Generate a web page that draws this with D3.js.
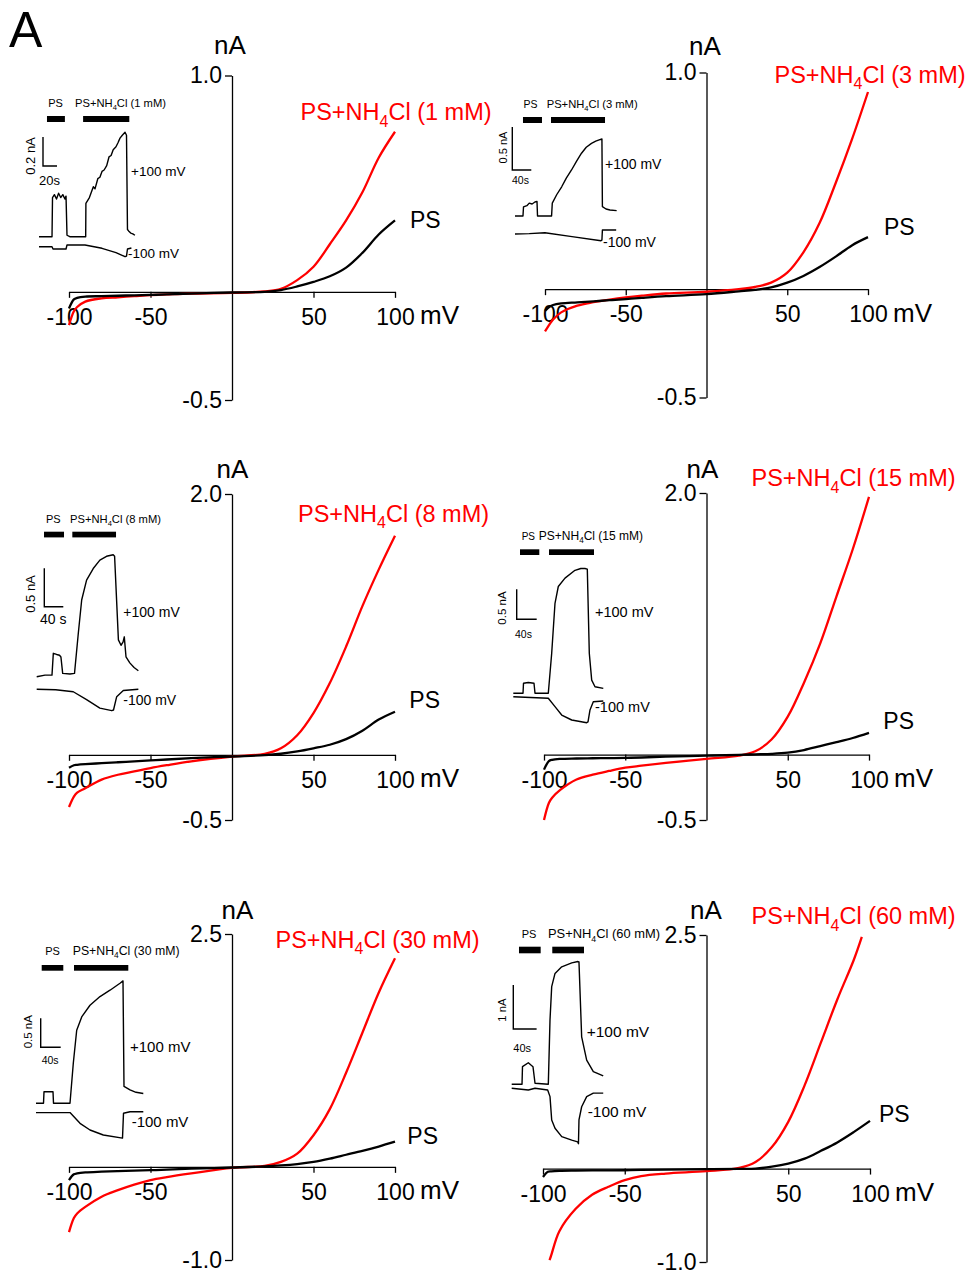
<!DOCTYPE html>
<html><head><meta charset="utf-8">
<script src="https://cdn.jsdelivr.net/npm/d3@7"></script>
<style>body{margin:0;background:#fff}svg{display:block}</style>
</head><body><svg id="c" width="973" height="1274"></svg>
<script>
// ---------------- DATA ----------------
const concentrations = ["1 mM", "3 mM", "8 mM", "15 mM", "30 mM", "60 mM"];
const yTopTicks = [1.0, 1.0, 2.0, 2.0, 2.5, 2.5];
const yBottomTicks = [-0.5, -0.5, -0.5, -0.5, -1.0, -1.0];
const xTickValues = [-100, -50, 50, 100];

// Voltage grid (mV) for I-V traces
const voltages = [-100,-97,-95,-90,-80,-70,-60,-50,-40,-25,0,20,30,40,50,60,70,80,90,100];
const voltages60Red = [-96,-95,-90,-80,-70,-60,-50,-40,-25,0,20,30,40,50,60,70,80,90,95];

// Currents (nA): PS (black) and PS+NH4Cl (red)
const ps1  = [-0.077,-0.035,-0.028,-0.022,-0.020,-0.018,-0.016,-0.014,-0.012,-0.008,-0.003,0.000,0.008,0.025,0.046,0.072,0.112,0.180,0.265,0.330];
const nh1  = [-0.154,-0.090,-0.070,-0.045,-0.030,-0.025,-0.020,-0.015,-0.012,-0.008,-0.005,0.002,0.014,0.054,0.116,0.220,0.330,0.460,0.620,0.740];
const ps3  = [-0.100,-0.080,-0.073,-0.066,-0.061,-0.056,-0.051,-0.046,-0.040,-0.032,-0.023,-0.010,-0.003,0.008,0.030,0.061,0.102,0.150,0.202,0.240];
const nh3  = [-0.195,-0.160,-0.140,-0.107,-0.076,-0.060,-0.048,-0.038,-0.030,-0.020,-0.012,0.000,0.010,0.030,0.076,0.170,0.305,0.490,0.690,0.910];
const ps8  = [-0.100,-0.080,-0.077,-0.072,-0.064,-0.057,-0.050,-0.043,-0.036,-0.026,-0.013,-0.003,0.008,0.026,0.050,0.077,0.120,0.185,0.270,0.330];
const nh8  = [-0.400,-0.320,-0.290,-0.256,-0.190,-0.153,-0.128,-0.102,-0.080,-0.050,-0.013,0.008,0.050,0.150,0.320,0.550,0.830,1.140,1.420,1.680];
const ps15 = [-0.115,-0.050,-0.040,-0.033,-0.030,-0.028,-0.027,-0.025,-0.022,-0.016,-0.008,-0.002,0.002,0.006,0.015,0.035,0.065,0.095,0.127,0.166];
const nh15 = [-0.500,-0.370,-0.330,-0.270,-0.190,-0.153,-0.125,-0.100,-0.085,-0.064,-0.033,-0.008,0.025,0.115,0.290,0.550,0.850,1.210,1.570,1.970];
const ps30 = [-0.142,-0.080,-0.070,-0.060,-0.052,-0.046,-0.040,-0.036,-0.030,-0.020,-0.007,0.005,0.015,0.030,0.053,0.088,0.130,0.172,0.218,0.270];
const nh30 = [-0.700,-0.550,-0.500,-0.430,-0.320,-0.250,-0.190,-0.142,-0.110,-0.070,-0.010,0.010,0.053,0.142,0.340,0.620,1.010,1.440,1.870,2.240];
const ps60 = [-0.090,-0.035,-0.030,-0.025,-0.022,-0.020,-0.019,-0.018,-0.015,-0.011,-0.007,-0.003,0.000,0.020,0.053,0.106,0.190,0.280,0.390,0.510];
const nh60 = [-0.980,-0.930,-0.670,-0.430,-0.280,-0.195,-0.124,-0.080,-0.053,-0.028,0.007,0.070,0.230,0.500,0.890,1.350,1.810,2.230,2.480];

const psSeries = [ps1, ps3, ps8, ps15, ps30, ps60];
const nhSeries = [nh1, nh3, nh8, nh15, nh30, nh60];
const nhVoltages = [voltages, voltages, voltages, voltages, voltages, voltages60Red];

// Inset time courses: [time (s), current (nA)] at +100 mV and -100 mV
const ins1Pos = [[0,0],[18.6,0],[19.3,0.27],[22,0.29],[25,0.26],[28,0.30],[31,0.27],[34,0.29],[37,0.26],[38.6,0.28],[40,0.01],[44,0],[66.7,0],[67,0.23],[72,0.27],[77.6,0.345],[80,0.33],[84,0.40],[87,0.41],[90,0.45],[93,0.46],[96.7,0.49],[100,0.55],[103,0.56],[106,0.60],[110,0.62],[113,0.65],[115.7,0.68],[119,0.70],[122.9,0.72],[125,0.70],[126.4,0.05],[128,0.04],[131,0.025],[134,0.02],[137,0.01]];
const ins1Neg = [[0,-0.069],[18.6,-0.069],[20,-0.085],[38.6,-0.085],[40,-0.057],[65.7,-0.057],[90,-0.08],[110,-0.11],[122.9,-0.138],[125,-0.134],[126.4,-0.085],[132,-0.078]];
const ins3Pos = [[0,0],[16.8,0],[17.9,0.105],[25,0.12],[30,0.15],[36,0.14],[42,0.163],[46.3,0.17],[47.4,0],[77,0],[78.5,0.15],[88,0.25],[98.3,0.34],[108,0.44],[119,0.535],[130,0.64],[140,0.73],[150,0.80],[161,0.845],[170,0.87],[180,0.89],[183,0.895],[184,0.108],[191.6,0.081],[200,0.07],[214,0.062]];
const ins3Neg = [[0,-0.21],[30,-0.205],[63,-0.194],[120,-0.24],[181,-0.287],[183,-0.28],[184,-0.163],[213,-0.163]];
const ins8Pos = [[0,0],[17.5,0.02],[32.2,0.02],[35,0.305],[42,0.29],[48,0.28],[51,0.257],[54.7,0.044],[70,0.035],[79.6,0.044],[87.6,0.566],[94.7,1.0],[105,1.26],[119,1.41],[133,1.52],[147,1.57],[161,1.59],[164,1.57],[172,0.48],[177.5,0.41],[181.7,0.45],[184.4,0.52],[188,0.26],[196,0.18],[205,0.12],[214,0.078]];
const ins8Neg = [[0,-0.164],[40,-0.17],[77,-0.196],[105,-0.30],[133,-0.41],[158,-0.443],[161.7,-0.434],[168.4,-0.26],[182.3,-0.18],[214,-0.164]];
const ins15Pos = [[0,0],[19.4,0],[20.4,0.167],[30,0.18],[41.4,0.167],[43.4,0],[70,0],[76.8,0.667],[83.4,1.5],[90,1.78],[103.4,1.92],[123.4,2.05],[135,2.08],[143.4,2.08],[148,2.07],[152,0.667],[156.8,0.22],[163.4,0.11],[180,0.083]];
const ins15Neg = [[0,-0.057],[70,-0.083],[83.4,-0.223],[96.8,-0.362],[116.8,-0.445],[146.8,-0.49],[149.4,-0.478],[153.4,-0.278],[160,-0.14],[180,-0.128]];
const ins30Pos = [[0,0],[15,0],[16,0.2],[34,0.2],[35,0],[68,0],[74.6,0.69],[81.4,1.26],[91.4,1.49],[108,1.69],[128,1.84],[148,1.95],[168,2.07],[174,2.11],[176,0.29],[188,0.23],[200,0.19],[214.6,0.17]];
const ins30Neg = [[0,-0.16],[68,-0.16],[88,-0.345],[108,-0.46],[134.6,-0.547],[173,-0.6],[175,-0.172],[188,-0.145],[214.6,-0.145]];
const ins60Pos = [[0,0],[17.7,0],[18.5,0.4],[28.5,0.49],[36.5,0.4],[40,0.023],[62.8,0],[65.7,1.46],[68.6,2.22],[74.3,2.52],[85.8,2.67],[103,2.76],[113.7,2.79],[115.4,2.78],[120,1.08],[128.6,0.55],[140,0.29],[157,0.19]];
const ins60Neg = [[0,-0.09],[28.5,-0.13],[40,-0.09],[61.7,-0.13],[65.7,-0.28],[68.6,-0.81],[74.3,-1.0],[85.8,-1.19],[103,-1.27],[113.2,-1.31],[114.5,-1.35],[115.4,-0.81],[120,-0.51],[128.6,-0.28],[140,-0.2],[157,-0.2]];
const insPos = [ins1Pos, ins3Pos, ins8Pos, ins15Pos, ins30Pos, ins60Pos];
const insNeg = [ins1Neg, ins3Neg, ins8Neg, ins15Neg, ins30Neg, ins60Neg];

// Application periods (s)
const psPeriods = [[11.4,37],[16.8,56.8],[15.4,57.5],[13.4,52],[11.4,54.6],[12.5,49.7]];
const nhPeriods = [[63,129],[75.8,189.5],[75,167],[71.4,161.4],[76,184.6],[69.6,124]];
// Scale bars
const scaleNA = [0.2, 0.5, 0.5, 0.5, 0.5, 1];
const scaleS = [20, 40, 40, 40, 40, 40];
const scaleNALabels = ["0.2 nA", "0.5 nA", "0.5 nA", "0.5 nA", "0.5 nA", "1 nA"];
const scaleSLabels = ["20s", "40s", "40 s", "40s", "40s", "40s"];

// ---------------- LAYOUT ----------------
const FONT = '"Liberation Sans", Arial, Helvetica, sans-serif';
const RED = "#ff0000";
const panelLayout = [
  {x:[69,395],  y:[400,75.5],  nA:[230,54],     red:[300.5,120],  ps:[410,228.3]},
  {x:[545,868], y:[397.5,72.5],nA:[705,55],     red:[774.5,82.7], ps:[884,235]},
  {x:[69,395],  y:[820,494],   nA:[232.5,478.3],red:[298,521.7],  ps:[409.3,708.3]},
  {x:[544,869], y:[820,493],   nA:[702.5,478],  red:[751.5,486],  ps:[883.3,729.3]},
  {x:[69,395],  y:[1260,934],  nA:[237.5,919],  red:[275.5,947.7],ps:[407.3,1144.3]},
  {x:[543,870], y:[1262,935],  nA:[706,919],    red:[751.5,924.3],ps:[879,1122.3]}
];
const insetLayout = [
  {x0:39,   base:236.7, pxS:0.7,   pxNA:145,  barY:116,   barH:6,   psL:[55.5,107], psF:11,  nhL:[75,107],    hf:11.2, sb:[43,166],     naL:[35,156],     naF:13,   sL:[39,185],     sF:13,   pos:[131,176],     neg:[128,258],     mf:13.5},
  {x0:515,  base:216,   pxS:0.475, pxNA:86,   barY:117,   barH:6,   psL:[530.5,108],psF:10.5,nhL:[546.7,108], hf:11.2, sb:[512.3,170],  naL:[506.5,147.5],naF:11,   sL:[512,184.3],  sF:10.5, pos:[605,169],     neg:[603,246.7],   mf:14},
  {x0:36.7, base:676.7, pxS:0.475, pxNA:76.7, barY:531.7, barH:5.7, psL:[53.3,523], psF:11,  nhL:[70,523],    hf:11.2, sb:[44.3,606.7], naL:[35,594],     naF:13,   sL:[40,624],     sF:14,   pos:[123.3,616.7], neg:[123.3,705],   mf:14},
  {x0:513.3,base:693.3, pxS:0.5,   pxNA:60,   barY:549.3, barH:5.7, psL:[528.3,540],psF:10,  nhL:[538.8,540], hf:12,   sb:[516.7,619.3], naL:[505.5,608],  naF:11.5, sL:[515,638.3],  sF:10.5, pos:[595,616.7],   neg:[595,712.3],   mf:14.5},
  {x0:36,   base:1103.3,pxS:0.5,   pxNA:58,   barY:965,   barH:5.7, psL:[52.5,955], psF:11,  nhL:[72.7,955],  hf:12.3, sb:[40.7,1047.3], naL:[32,1031.7],  naF:11.5, sL:[41.7,1064],  sF:10.5, pos:[130,1051.7],  neg:[131.7,1126.7],mf:15},
  {x0:511.7,base:1084.3,pxS:0.583, pxNA:44,   barY:946.7, barH:6.6, psL:[529,938],  psF:11,  nhL:[548,938],   hf:12.9, sb:[513.3,1029],  naL:[505.5,1010], naF:11.3, sL:[513.3,1051.7],sF:11,  pos:[586.7,1036.7],neg:[587.7,1116.7],mf:15.5}
];

// ---------------- DRAW ----------------
const svg = d3.select("#c");
svg.append("rect").attr("width",973).attr("height",1274).attr("fill","#fff");
svg.append("text").attr("x",9).attr("y",47).attr("font-family",FONT).attr("font-size",50).text("A");

function nh4Label(sel, conc, size) {
  sel.attr("font-family", FONT).attr("font-size", size);
  sel.append("tspan").text("PS+NH");
  sel.append("tspan").attr("font-size", size*0.68).attr("dy", size*0.28).text("4");
  sel.append("tspan").attr("dy", -size*0.28).text("Cl (" + conc + ")");
}

panelLayout.forEach((L, i) => {
  const g = svg.append("g");
  const x = d3.scaleLinear().domain([-100, 100]).range(L.x);
  const y = d3.scaleLinear().domain([yBottomTicks[i], yTopTicks[i]]).range(L.y);

  const xa = g.append("g").attr("transform", `translate(0,${y(0)})`)
    .call(d3.axisBottom(x).tickValues(xTickValues).tickSize(6).tickSizeOuter(0).tickFormat(d => String(d)));
  const ya = g.append("g").attr("transform", `translate(${x(0)},0)`)
    .call(d3.axisLeft(y).tickValues([yBottomTicks[i], yTopTicks[i]]).tickSize(7).tickSizeOuter(0).tickFormat(d => d.toFixed(1)));
  [xa, ya].forEach(a => {
    a.attr("font-family", FONT).attr("font-size", 23);
    a.selectAll("path,line").attr("stroke", "#000").attr("stroke-width", 1.3);
    a.selectAll("text").attr("fill", "#000");
  });
  xa.selectAll("text").attr("y", 33).attr("dy", 0);
  ya.selectAll("text").attr("x", -10);

  // Traces
  const crv = d3.curveCatmullRom.alpha(0.5);
  const red = d3.line().x((d, k) => x(nhVoltages[i][k])).y(d => y(d)).curve(crv);
  const blk = d3.line().x((d, k) => x(voltages[k])).y(d => y(d)).curve(crv);
  g.append("path").attr("d", red(nhSeries[i])).attr("fill", "none").attr("stroke", RED).attr("stroke-width", 2.3);
  g.append("path").attr("d", blk(psSeries[i])).attr("fill", "none").attr("stroke", "#000").attr("stroke-width", 2.3);

  // Labels
  g.append("text").attr("x", L.nA[0]).attr("y", L.nA[1]).attr("text-anchor", "middle")
    .attr("font-family", FONT).attr("font-size", 26).text("nA");
  g.append("text").attr("x", x(100) + 25).attr("y", y(0) + 32.5)
    .attr("font-family", FONT).attr("font-size", 26).text("mV");
  g.append("text").attr("x", L.ps[0]).attr("y", L.ps[1]).attr("font-family", FONT).attr("font-size", 23).text("PS");
  g.append("text").attr("x", L.red[0]).attr("y", L.red[1]).attr("fill", RED).call(nh4Label, concentrations[i], 23.5);

  // Inset
  const I = insetLayout[i];
  const ix = d3.scaleLinear().domain([0, 1]).range([I.x0, I.x0 + I.pxS]);
  const iy = d3.scaleLinear().domain([0, 1]).range([I.base, I.base - I.pxNA]);
  const il = d3.line().x(d => ix(d[0])).y(d => iy(d[1]));
  const ig = svg.append("g");
  ig.append("path").attr("d", il(insPos[i])).attr("fill", "none").attr("stroke", "#000").attr("stroke-width", 1.4).attr("stroke-linejoin","round");
  ig.append("path").attr("d", il(insNeg[i])).attr("fill", "none").attr("stroke", "#000").attr("stroke-width", 1.4).attr("stroke-linejoin","round");
  // application bars
  [psPeriods[i], nhPeriods[i]].forEach(p => {
    ig.append("rect").attr("x", ix(p[0])).attr("width", ix(p[1]) - ix(p[0]))
      .attr("y", I.barY).attr("height", I.barH).attr("fill", "#000");
  });
  ig.append("text").attr("x", I.psL[0]).attr("y", I.psL[1]).attr("text-anchor", "middle")
    .attr("font-family", FONT).attr("font-size", I.psF).text("PS");
  ig.append("text").attr("x", I.nhL[0]).attr("y", I.nhL[1]).call(nh4Label, concentrations[i], I.hf);
  // scale bar
  const tc = ix.invert(I.sb[0]), ic = iy.invert(I.sb[1]);
  ig.append("path").attr("d", `M${ix(tc)},${iy(ic + scaleNA[i])}V${iy(ic)}H${ix(tc + scaleS[i])}`)
    .attr("fill", "none").attr("stroke", "#000").attr("stroke-width", 1.4);
  ig.append("text").attr("transform", `translate(${I.naL[0]},${I.naL[1]}) rotate(-90)`).attr("text-anchor", "middle")
    .attr("font-family", FONT).attr("font-size", I.naF).text(scaleNALabels[i]);
  ig.append("text").attr("x", I.sL[0]).attr("y", I.sL[1]).attr("font-family", FONT).attr("font-size", I.sF).text(scaleSLabels[i]);
  ig.append("text").attr("x", I.pos[0]).attr("y", I.pos[1]).attr("font-family", FONT).attr("font-size", I.mf).text("+100 mV");
  ig.append("text").attr("x", I.neg[0]).attr("y", I.neg[1]).attr("font-family", FONT).attr("font-size", I.mf).text("-100 mV");
});
</script></body></html>
